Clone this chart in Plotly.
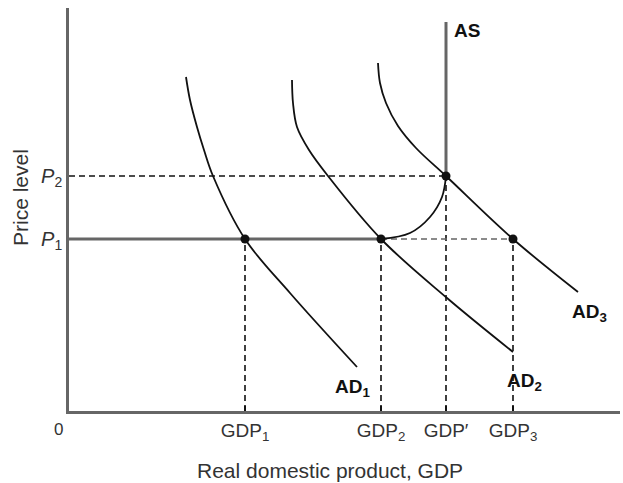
import plotly.graph_objects as go

# ---- data (units: arbitrary) ----
gdp_vals = [17.6, 31.2, 37.7, 44.4]
gdp_labels = ["GDP<sub>1</sub>", "GDP<sub>2</sub>", "GDP\u2032", "GDP<sub>3</sub>"]
p_vals = [17.2, 23.5]
p_labels = ["<i>P</i><sub>1</sub>", "<i>P</i><sub>2</sub>"]

ad1_x = [11.7, 12.1, 12.8, 13.5, 14.4, 17.6, 22.1, 28.8]
ad1_y = [33.4, 31.1, 28.4, 26.1, 23.5, 17.2, 11.8, 4.4]
ad2_x = [22.3, 22.4, 22.8, 24.0, 25.9, 31.2, 37.8, 44.4]
ad2_y = [33.1, 30.8, 28.4, 26.1, 23.5, 17.2, 11.3, 5.9]
ad3_x = [30.9, 31.1, 31.7, 32.9, 34.7, 37.7, 44.4, 50.9]
ad3_y = [34.8, 32.8, 30.8, 28.5, 26.3, 23.5, 17.2, 11.9]

as_curve_x = [31.2, 34.1, 36.1, 37.3, 37.7]
as_curve_y = [17.2, 17.8, 19.4, 21.4, 23.5]
as_top = 38.9

eq_x = [17.6, 31.2, 37.7, 44.4]
eq_y = [17.2, 17.2, 23.5, 17.2]

X_MAX = 55.1
Y_MAX = 40.3

fig = go.Figure()

dash = "6px,4px"
black = "#111"
grey = "#666"
FONT = "Liberation Sans, Arial, sans-serif"

# dashed verticals from equilibria to axis
for xv, yv in zip(eq_x, eq_y):
    fig.add_trace(go.Scatter(x=[xv, xv], y=[0, yv], mode="lines",
                             line=dict(color=black, width=1.6, dash=dash),
                             hoverinfo="skip", showlegend=False))
# dashed horizontal at P2 to GDP'
fig.add_trace(go.Scatter(x=[0, gdp_vals[2]], y=[p_vals[1], p_vals[1]], mode="lines",
                         line=dict(color=black, width=1.6, dash=dash),
                         hoverinfo="skip", showlegend=False))
# dashed horizontal at P1 from GDP2 to GDP3
fig.add_trace(go.Scatter(x=[gdp_vals[1], gdp_vals[3]], y=[p_vals[0], p_vals[0]], mode="lines",
                         line=dict(color=grey, width=1.6, dash=dash),
                         hoverinfo="skip", showlegend=False))

# AS: horizontal part, curve, vertical part
fig.add_trace(go.Scatter(x=[0, gdp_vals[1]], y=[p_vals[0], p_vals[0]], mode="lines",
                         line=dict(color=grey, width=3),
                         hoverinfo="skip", showlegend=False))
fig.add_trace(go.Scatter(x=as_curve_x, y=as_curve_y, mode="lines",
                         line=dict(color=black, width=1.8, shape="spline"),
                         hoverinfo="skip", showlegend=False))
fig.add_trace(go.Scatter(x=[gdp_vals[2], gdp_vals[2]], y=[p_vals[1], as_top], mode="lines",
                         line=dict(color=grey, width=3),
                         hoverinfo="skip", showlegend=False))

# AD curves
for xs, ys in [(ad1_x, ad1_y), (ad2_x, ad2_y), (ad3_x, ad3_y)]:
    fig.add_trace(go.Scatter(x=xs, y=ys, mode="lines",
                             line=dict(color=black, width=1.8, shape="spline", smoothing=1.0),
                             hoverinfo="skip", showlegend=False))

# equilibrium points
fig.add_trace(go.Scatter(x=eq_x, y=eq_y, mode="markers",
                         marker=dict(color=black, size=9),
                         hoverinfo="skip", showlegend=False))

lab_font = dict(family=FONT, size=19, color=black)
fig.add_annotation(x=38.3, y=38.1, text="<b>AS</b>", showarrow=False, xanchor="left",
                   font=lab_font)
fig.add_annotation(x=28.3, y=2.3, text="<b>AD<sub>1</sub></b>", showarrow=False,
                   font=lab_font)
fig.add_annotation(x=45.5, y=2.9, text="<b>AD<sub>2</sub></b>", showarrow=False,
                   font=lab_font)
fig.add_annotation(x=52.0, y=9.8, text="<b>AD<sub>3</sub></b>", showarrow=False,
                   font=lab_font)

txt_font = dict(family=FONT, size=19, color="#333")

fig.update_layout(
    width=623, height=483,
    margin=dict(l=69, r=3, t=8, b=72),
    plot_bgcolor="white", paper_bgcolor="white",
    xaxis=dict(range=[0, X_MAX], showgrid=False, zeroline=False,
               showline=True, linecolor=grey, linewidth=2.5,
               tickvals=gdp_vals, ticktext=gdp_labels,
               ticks="inside", ticklen=5, tickcolor=black, tickwidth=1.5,
               tickfont=txt_font, fixedrange=True),
    yaxis=dict(range=[0, Y_MAX], showgrid=False, zeroline=False,
               showline=True, linecolor=grey, linewidth=2.5,
               tickvals=p_vals, ticktext=p_labels, ticks="",
               tickfont=dict(family=FONT, size=20, color="#333"),
               fixedrange=True),
)

W = 623 - 72
H = 411 - 8
fig.add_annotation(x=(58 - 69) / W, y=-(429 - 411) / H, xref="paper", yref="paper",
                   text="0", showarrow=False, font=dict(family=FONT, size=17, color="#333"),
                   xanchor="center", yanchor="middle")
fig.add_annotation(x=(330 - 69) / W, y=-(470 - 411) / H, xref="paper", yref="paper",
                   text="Real domestic product, GDP", showarrow=False,
                   font=dict(family=FONT, size=21, color="#333"),
                   xanchor="center", yanchor="middle")
fig.add_annotation(x=-(69 - 20) / W, y=(411 - 198) / H, xref="paper", yref="paper",
                   text="Price level", textangle=-90, showarrow=False,
                   font=dict(family=FONT, size=21, color="#333"),
                   xanchor="center", yanchor="middle")

fig.write_html("out.html", config={"displayModeBar": False},
               post_script="document.body.style.margin='0';")
